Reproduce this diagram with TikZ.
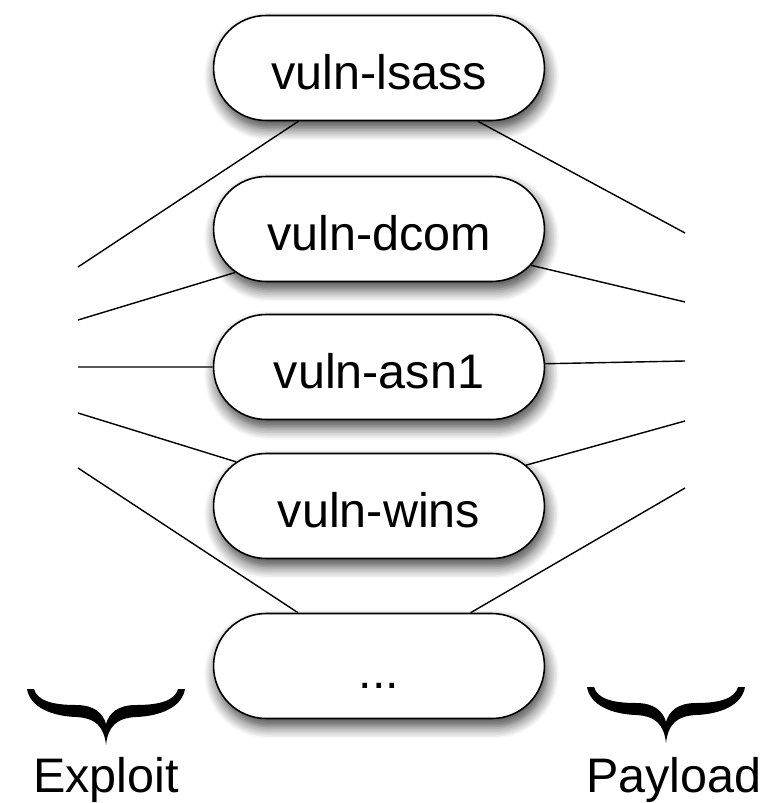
\documentclass[tikz,border=0pt]{standalone}
\usepackage{fontspec}
\setmainfont{Liberation Sans}
\usetikzlibrary{shapes.misc,shadows.blur}

\tikzset{
  vuln/.style={rounded rectangle, draw, fill=white, line width=0.9pt,
    minimum width=6.62cm, minimum height=2.1cm, inner xsep=0pt,
    text height=0.9cm, text depth=0.02cm, font=\fontsize{27.6}{33}\selectfont,
    blur shadow={shadow xshift=0.05cm, shadow yshift=-0.16cm, shadow blur radius=0.24cm, shadow blur steps=8, shadow opacity=75}},
  link/.style={line width=0.8pt},
  side/.style={font=\fontsize{27.6}{33}\selectfont, anchor=base, inner sep=0pt},
  curly/.pic={
    \fill (0,0) .. controls (-2,-18) and (-10,-27) .. (-30,-28)
      .. controls (-55,-29) and (-76,-38) .. (-79,-56) -- (-72,-56)
      .. controls (-69,-45) and (-55,-40) .. (-30,-40)
      .. controls (-12,-40) and (-3,-32) .. (0,-21)
      .. controls (3,-32) and (12,-40) .. (30,-40)
      .. controls (55,-40) and (69,-45) .. (72,-56) -- (79,-56)
      .. controls (76,-38) and (55,-29) .. (30,-28)
      .. controls (10,-27) and (2,-18) .. (0,0) -- cycle;
  }
}

\begin{document}
\begin{tikzpicture}[x=0.02cm, y=-0.02cm]
    \useasboundingbox (0,0) rectangle (765,803);

    \node[vuln] (lsass) at (379,68) {vuln-lsass};
    \node[vuln] (dcom) at (379,229) {vuln-dcom};
    \node[vuln] (asn1) at (379,367) {vuln-asn1};
    \node[vuln] (wins) at (379,506) {vuln-wins};
    \node[vuln] (more) at (379,666) {...};

    % exploit side
    \coordinate (e1) at (78,267);
    \coordinate (e2) at (78,320);
    \coordinate (e3) at (78,367);
    \coordinate (e4) at (78,413);
    \coordinate (e5) at (78,468);
    % payload side
    \coordinate (p1) at (685,233);
    \coordinate (p2) at (685,302);
    \coordinate (p3) at (685,361);
    \coordinate (p4) at (685,421);
    \coordinate (p5) at (685,488);

    \draw[link] (e1) -- (lsass) -- (p1);
    \draw[link] (e2) -- (dcom) -- (p2);
    \draw[link] (e3) -- (asn1) -- (p3);
    \draw[link] (e4) -- (wins) -- (p4);
    \draw[link] (e5) -- (more) -- (p5);

    \pic at (106,745) {curly};
    \pic at (666,743) {curly};
    \node[side] (exploit) at (106,792) {Exploit};
    \node[side] (payload) at (674,792) {Payload};
  \end{tikzpicture}
\end{document}
